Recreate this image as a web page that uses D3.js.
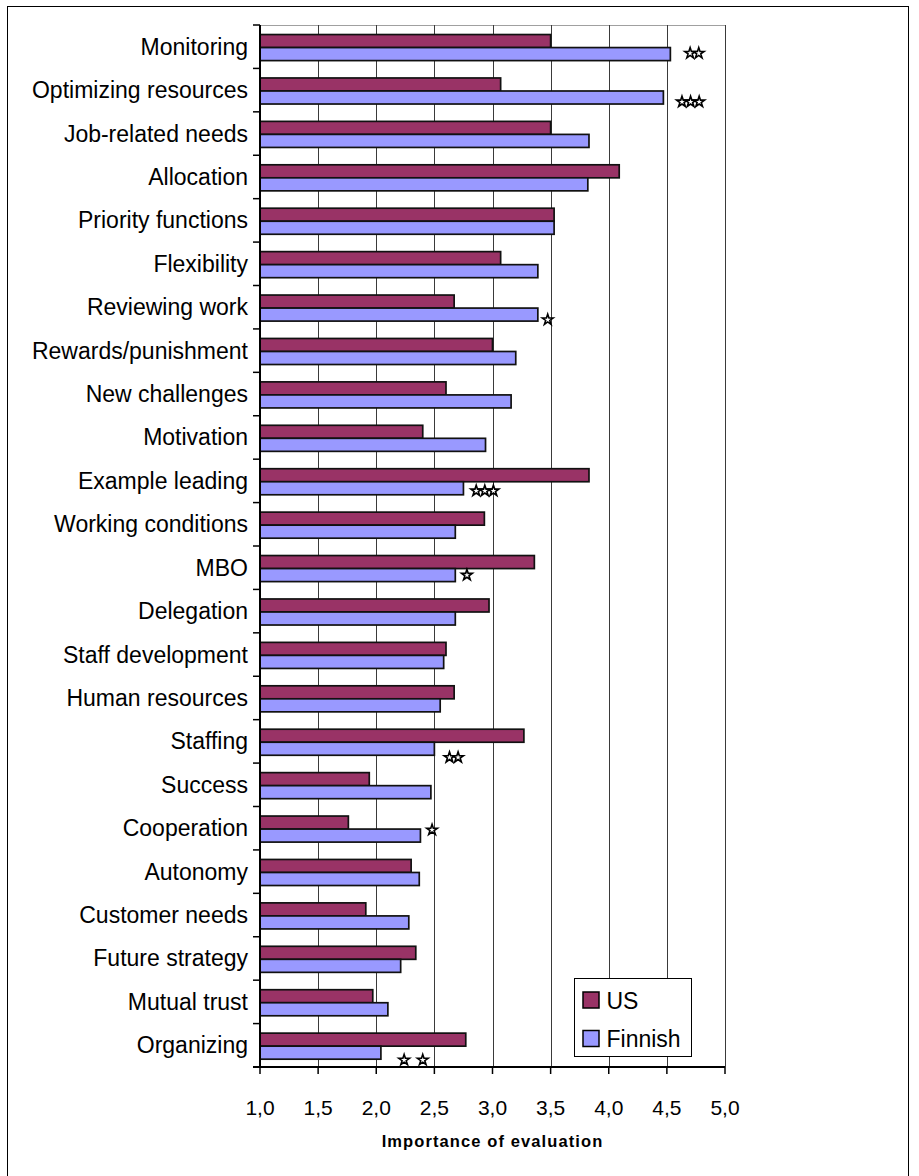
<!DOCTYPE html>
<html>
<head>
<meta charset="utf-8">
<script src="https://cdn.jsdelivr.net/npm/d3@7/dist/d3.min.js"></script>
<style>
  html, body { margin: 0; padding: 0; background: #fff; }
  svg { display: block; }
  text { font-family: "Liberation Sans", Arial, sans-serif; fill: #000; }
</style>
</head>
<body>
<svg id="chart" width="919" height="1176"></svg>
<script>
// ---- data ----
const categories = [
  "Monitoring", "Optimizing resources", "Job-related needs", "Allocation",
  "Priority functions", "Flexibility", "Reviewing work", "Rewards/punishment",
  "New challenges", "Motivation", "Example leading", "Working conditions",
  "MBO", "Delegation", "Staff development", "Human resources", "Staffing",
  "Success", "Cooperation", "Autonomy", "Customer needs", "Future strategy",
  "Mutual trust", "Organizing"
];
const seriesNames = ["US", "Finnish"];
const usValues = [
  3.50, 3.07, 3.50, 4.09, 3.53, 3.07, 2.67, 3.00, 2.60, 2.40, 3.83, 2.93,
  3.36, 2.97, 2.60, 2.67, 3.27, 1.94, 1.76, 2.30, 1.91, 2.34, 1.97, 2.77
];
const finnishValues = [
  4.53, 4.47, 3.83, 3.82, 3.53, 3.39, 3.39, 3.20, 3.16, 2.94, 2.75, 2.68,
  2.68, 2.68, 2.58, 2.55, 2.50, 2.47, 2.38, 2.37, 2.28, 2.21, 2.10, 2.04
];
const xTicks = [1.0, 1.5, 2.0, 2.5, 3.0, 3.5, 4.0, 4.5, 5.0];
const xTickLabels = ["1,0", "1,5", "2,0", "2,5", "3,0", "3,5", "4,0", "4,5", "5,0"];
const axisTitle = "Importance of evaluation";
// significance stars: category, first star position (x units), number of stars, vertical place in band (fraction)
const sigCategories = ["Monitoring", "Optimizing resources", "Reviewing work", "Example leading", "MBO", "Staffing", "Cooperation", "Organizing", "Organizing"];
const sigStart = [4.70, 4.63, 3.475, 2.86, 2.78, 2.63, 2.48, 2.24, 2.40];
const sigCount = [2, 3, 1, 3, 1, 2, 1, 1, 1];
const sigBandPos = [0.65, 0.77, 0.79, 0.73, 0.67, 0.87, 0.54, 0.84, 0.84];

// ---- layout ----
const svg = d3.select("#chart");
const plot = { left: 260, right: 725, top: 25, bottom: 1067 };
const colors = { US: "#993366", Finnish: "#9999FF" };

// outer frame
svg.append("rect")
  .attr("x", 7.5).attr("y", 6.5).attr("width", 901).attr("height", 1180)
  .attr("fill", "none").attr("stroke", "#000").attr("stroke-width", 1);

const x = d3.scaleLinear().domain([1, 5]).range([plot.left, plot.right]);
const y0 = d3.scaleBand().domain(categories).range([plot.top, plot.bottom]).padding(0);
const bw = y0.bandwidth();
const y1 = d3.scaleBand().domain(seriesNames).range([bw * 0.22, bw * 0.82]).padding(0);

// plot area top border
svg.append("line")
  .attr("x1", plot.left).attr("x2", plot.right)
  .attr("y1", plot.top + 0.5).attr("y2", plot.top + 0.5)
  .attr("stroke", "#a0a0a0").attr("stroke-width", 1);

// gridlines
svg.append("g").selectAll("line")
  .data(xTicks.filter(d => d > 1))
  .join("line")
  .attr("x1", d => Math.round(x(d)) + 0.5).attr("x2", d => Math.round(x(d)) + 0.5)
  .attr("y1", plot.top).attr("y2", plot.bottom)
  .attr("stroke", "#3a3a3a").attr("stroke-width", 1);

// bars
const rows = categories.map((c, i) => ({ cat: c, US: usValues[i], Finnish: finnishValues[i] }));
const gRows = svg.append("g").selectAll("g")
  .data(rows).join("g")
  .attr("transform", d => `translate(0,${y0(d.cat)})`);
gRows.selectAll("rect")
  .data(d => seriesNames.map(s => ({ s, v: d[s] })))
  .join("rect")
  .attr("x", x(1))
  .attr("y", d => y1(d.s))
  .attr("width", d => x(d.v) - x(1))
  .attr("height", y1.bandwidth())
  .attr("fill", d => colors[d.s])
  .attr("stroke", "#111")
  .attr("stroke-width", 1.7);

// left axis
const yAxisG = svg.append("g");
yAxisG.append("line")
  .attr("x1", plot.left).attr("x2", plot.left)
  .attr("y1", plot.top).attr("y2", plot.bottom)
  .attr("stroke", "#000").attr("stroke-width", 2);
const boundaries = categories.map(c => y0(c)).concat([plot.bottom]);
yAxisG.selectAll("line.tk").data(boundaries).join("line")
  .attr("class", "tk")
  .attr("x1", plot.left - 7).attr("x2", plot.left)
  .attr("y1", d => d).attr("y2", d => d)
  .attr("stroke", "#000").attr("stroke-width", 1.5);
yAxisG.selectAll("text").data(categories).join("text")
  .attr("x", 248)
  .attr("y", d => y0(d) + bw / 2 + 8)
  .attr("text-anchor", "end")
  .attr("font-size", 23)
  .text(d => d);

// bottom axis
const xAxisG = svg.append("g");
xAxisG.append("line")
  .attr("x1", plot.left - 7).attr("x2", plot.right)
  .attr("y1", plot.bottom).attr("y2", plot.bottom)
  .attr("stroke", "#000").attr("stroke-width", 2);
xAxisG.selectAll("line.tk").data(xTicks).join("line")
  .attr("class", "tk")
  .attr("x1", d => x(d)).attr("x2", d => x(d))
  .attr("y1", plot.bottom).attr("y2", plot.bottom + 7)
  .attr("stroke", "#000").attr("stroke-width", 1.5);
xAxisG.selectAll("text").data(xTicks).join("text")
  .attr("x", d => x(d))
  .attr("y", 1115)
  .attr("text-anchor", "middle")
  .attr("font-size", 21)
  .text((d, i) => xTickLabels[i]);
svg.append("text")
  .attr("x", (plot.left + plot.right) / 2)
  .attr("y", 1147)
  .attr("text-anchor", "middle")
  .attr("font-size", 16.5)
  .attr("font-weight", "bold")
  .attr("letter-spacing", 1.1)
  .text(axisTitle);

// significance stars
const star = d3.symbol().type(d3.symbolStar).size(36);
const stars = [];
sigCategories.forEach((c, i) => {
  for (let k = 0; k < sigCount[i]; k++) {
    stars.push({ cx: x(sigStart[i]) + k * 8.6, cy: y0(c) + bw * sigBandPos[i] });
  }
});
svg.append("g").selectAll("path").data(stars).join("path")
  .attr("d", star)
  .attr("transform", d => `translate(${d.cx},${d.cy})`)
  .attr("fill", "#fff")
  .attr("stroke", "#000")
  .attr("stroke-width", 1.6);

// legend
const lg = svg.append("g").attr("transform", "translate(574.5,978.5)");
lg.append("rect").attr("width", 117).attr("height", 78)
  .attr("fill", "#fff").attr("stroke", "#000").attr("stroke-width", 1);
seriesNames.forEach((s, i) => {
  lg.append("rect")
    .attr("x", 8.5).attr("y", 13.5 + i * 38.5)
    .attr("width", 16).attr("height", 16)
    .attr("fill", colors[s]).attr("stroke", "#000").attr("stroke-width", 1.5);
  lg.append("text")
    .attr("x", 32).attr("y", 30 + i * 38)
    .attr("font-size", 23)
    .text(s);
});
</script>
</body>
</html>
